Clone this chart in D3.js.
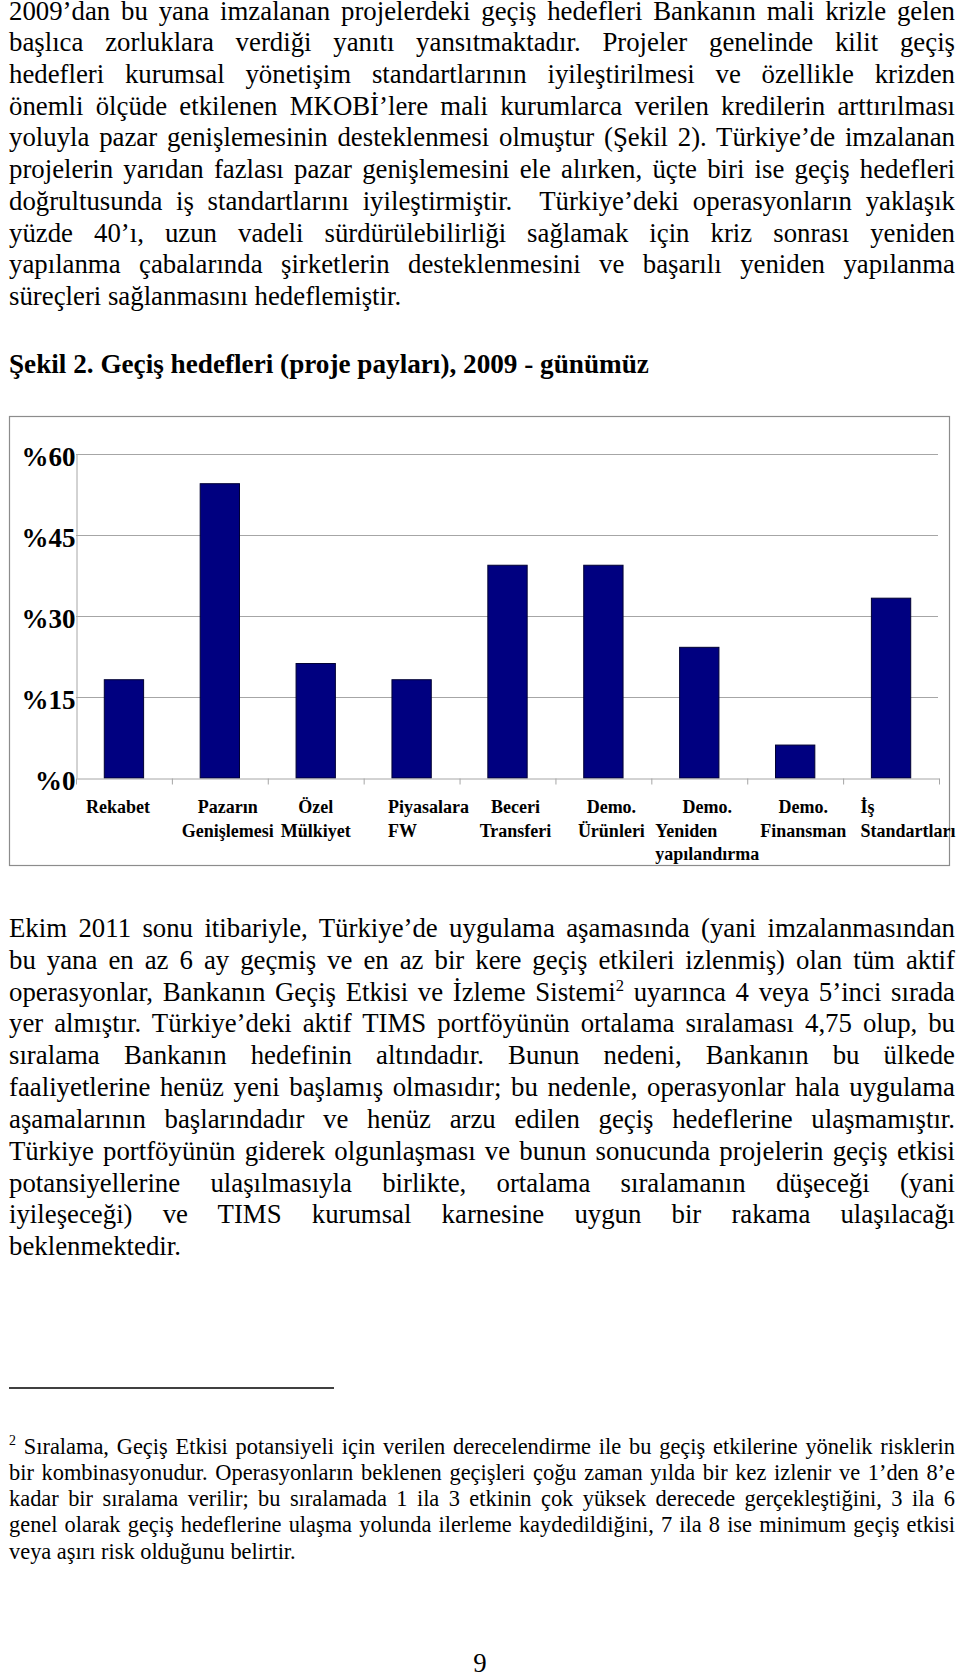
<!DOCTYPE html>
<html>
<head>
<meta charset="utf-8">
<script src="https://cdn.jsdelivr.net/npm/d3@7"></script>
<style>
  html, body { margin: 0; padding: 0; background: #fff; }
  svg { display: block; }
  text { white-space: pre; }
</style>
</head>
<body>
<svg id="page" width="960" height="1678"></svg>
<script>
// ---------------- DATA ----------------
const para1 = [
  "2009’dan bu yana imzalanan projelerdeki geçiş hedefleri Bankanın mali krizle gelen",
  "başlıca zorluklara verdiği yanıtı yansıtmaktadır. Projeler genelinde kilit geçiş",
  "hedefleri kurumsal yönetişim standartlarının iyileştirilmesi ve özellikle krizden",
  "önemli ölçüde etkilenen MKOBİ’lere mali kurumlarca verilen kredilerin arttırılması",
  "yoluyla pazar genişlemesinin desteklenmesi olmuştur (Şekil 2). Türkiye’de imzalanan",
  "projelerin yarıdan fazlası pazar genişlemesini ele alırken, üçte biri ise geçiş hedefleri",
  "doğrultusunda iş standartlarını iyileştirmiştir.  Türkiye’deki operasyonların yaklaşık",
  "yüzde 40’ı, uzun vadeli sürdürülebilirliği sağlamak için kriz sonrası yeniden",
  "yapılanma çabalarında şirketlerin desteklenmesini ve başarılı yeniden yapılanma",
  "süreçleri sağlanmasını hedeflemiştir."
];
const figureTitle = "Şekil 2. Geçiş hedefleri (proje payları), 2009 - günümüz";
const para2 = [
  "Ekim 2011 sonu itibariyle, Türkiye’de uygulama aşamasında (yani imzalanmasından",
  "bu yana en az 6 ay geçmiş ve en az bir kere geçiş etkileri izlenmiş) olan tüm aktif",
  "operasyonlar, Bankanın Geçiş Etkisi ve İzleme Sistemi{2} uyarınca 4 veya 5’inci sırada",
  "yer almıştır. Türkiye’deki aktif TIMS portföyünün ortalama sıralaması 4,75 olup, bu",
  "sıralama Bankanın hedefinin altındadır. Bunun nedeni, Bankanın bu ülkede",
  "faaliyetlerine henüz yeni başlamış olmasıdır; bu nedenle, operasyonlar hala uygulama",
  "aşamalarının başlarındadır ve henüz arzu edilen geçiş hedeflerine ulaşmamıştır.",
  "Türkiye portföyünün giderek olgunlaşması ve bunun sonucunda projelerin geçiş etkisi",
  "potansiyellerine ulaşılmasıyla birlikte, ortalama sıralamanın düşeceği (yani",
  "iyileşeceği) ve TIMS kurumsal karnesine uygun bir rakama ulaşılacağı",
  "beklenmektedir."
];
const footnote = [
  "{2} Sıralama, Geçiş Etkisi potansiyeli için verilen derecelendirme ile bu geçiş etkilerine yönelik risklerin",
  "bir kombinasyonudur. Operasyonların beklenen geçişleri çoğu zaman yılda bir kez izlenir ve 1’den 8’e",
  "kadar bir sıralama verilir; bu sıralamada 1 ila 3 etkinin çok yüksek derecede gerçekleştiğini, 3 ila 6",
  "genel olarak geçiş hedeflerine ulaşma yolunda ilerleme kaydedildiğini, 7 ila 8 ise minimum geçiş etkisi",
  "veya aşırı risk olduğunu belirtir."
];
const pageNumber = "9";

const categories = [
  "Rekabet",
  "Pazarın\nGenişlemesi",
  "Özel\nMülkiyet",
  "Piyasalara\nFW",
  "Beceri\nTransferi",
  "Demo.\nÜrünleri",
  "Demo.\nYeniden\nyapılandırma",
  "Demo.\nFinansman",
  "İş\nStandartları"
];
const shares = [18.2, 54.5, 21.2, 18.2, 39.4, 39.4, 24.2, 6.1, 33.3];
const yTicks = [0, 15, 30, 45, 60];
const yTickLabels = ["%0", "%15", "%30", "%45", "%60"];

// ---------------- TEXT ----------------
const svg = d3.select("#page");
const SERIF = "Liberation Serif";
const LEFT = 9, TEXT_W = 946;

function drawLine(g, str, x, y, width, justify, size, weight) {
  const t = g.append("text")
    .attr("x", x).attr("y", y)
    .attr("font-family", SERIF)
    .attr("font-size", size)
    .attr("font-weight", weight || "normal")
    .attr("fill", "#000");
  const parts = str.split(/(\{\d+\})/);
  let shifted = false;
  parts.forEach(p => {
    if (!p) return;
    const m = p.match(/^\{(\d+)\}$/);
    if (m) {
      t.append("tspan").attr("dy", -size * 0.36).attr("font-size", size * 0.62).text(m[1]);
      shifted = true;
    } else {
      const ts = t.append("tspan").text(p);
      if (shifted) { ts.attr("dy", size * 0.36); shifted = false; }
    }
  });
  if (justify) {
    const nat = t.node().getComputedTextLength();
    const spaces = (str.match(/ /g) || []).length;
    if (spaces) t.style("word-spacing", ((width - nat) / spaces) + "px");
  }
  return t;
}

function drawParagraph(lines, y0, lh, size) {
  const g = svg.append("g");
  lines.forEach((l, i) => {
    drawLine(g, l, LEFT, y0 + i * lh, TEXT_W, i < lines.length - 1, size);
  });
}

drawParagraph(para1, 19.5, 31.72, 26.8);
drawLine(svg, figureTitle, LEFT, 372.5, TEXT_W, false, 27.2, "bold");
drawParagraph(para2, 937, 31.83, 26.8);

// footnote separator
svg.append("line").attr("x1", 9).attr("x2", 334).attr("y1", 1388).attr("y2", 1388)
  .attr("stroke", "#000").attr("stroke-width", 1.3);
drawParagraph(footnote, 1453.5, 26.3, 22.4);

svg.append("text").attr("x", 480).attr("y", 1672).attr("text-anchor", "middle")
  .attr("font-family", SERIF).attr("font-size", 26.8).text(pageNumber);

// ---------------- CHART ----------------
const frame = { x0: 9.5, y0: 416.5, x1: 949.5, y1: 865.5 };
const plot = { left: 76, right: 939, top: 454, bottom: 778 };
const chart = svg.append("g");

chart.append("rect")
  .attr("x", frame.x0).attr("y", frame.y0)
  .attr("width", frame.x1 - frame.x0).attr("height", frame.y1 - frame.y0)
  .attr("fill", "#fff").attr("stroke", "#8c8c8c").attr("stroke-width", 1.2);

const idx = d3.range(categories.length);
const xCat = d3.scaleBand().domain(idx).range([plot.left, plot.right]);
const xBar = d3.scaleBand().domain(idx).range([plot.left, plot.right])
  .paddingInner(0.59).paddingOuter(0.295);
const y = d3.scaleLinear().domain([0, 60]).range([plot.bottom, plot.top]);

// gridlines
chart.append("g").selectAll("line")
  .data(yTicks.filter(d => d > 0))
  .join("line")
  .attr("x1", plot.left).attr("x2", plot.right - 1)
  .attr("y1", d => Math.round(y(d)) + 0.5).attr("y2", d => Math.round(y(d)) + 0.5)
  .attr("stroke", "#a6a6a6").attr("stroke-width", 1);

// y axis
const yAxis = chart.append("g")
  .attr("transform", `translate(${plot.left + 0.5},0)`)
  .call(d3.axisLeft(y).tickValues(yTicks).tickSize(0).tickSizeOuter(0).tickPadding(1)
    .tickFormat((d, i) => yTickLabels[i]));
yAxis.select(".domain").attr("stroke", "#a6a6a6");
yAxis.selectAll("text")
  .attr("dy", "0.44em")
  .attr("font-family", SERIF).attr("font-size", 27).attr("font-weight", "bold")
  .attr("fill", "#000");

// bars
chart.append("g").selectAll("rect")
  .data(shares)
  .join("rect")
  .attr("x", (d, i) => xBar(i))
  .attr("width", xBar.bandwidth())
  .attr("y", d => y(d))
  .attr("height", d => y(0) - y(d))
  .attr("fill", "#000080")
  .attr("stroke", "#000033").attr("stroke-width", 1);

// x axis with ticks at category boundaries
const xBound = d3.scaleLinear().domain([0, categories.length]).range([plot.left, plot.right]);
const xAxis = chart.append("g")
  .attr("transform", `translate(0,${Math.round(y(0)) + 0.5})`)
  .call(d3.axisBottom(xBound).tickValues(d3.range(categories.length + 1))
    .tickSize(6).tickSizeOuter(0).tickFormat(""));
xAxis.select(".domain").attr("stroke", "#a6a6a6");
xAxis.selectAll(".tick line").attr("stroke", "#a6a6a6");

// category labels (layout as in the original figure: most centred, a few left-set)
const labelNudge = [-14, 0, -8, 9, 0, 0, 0, 0, 9];
const labelAlign = ["center", "center", "center", "left", "center", "center", "tail-left", "center", "left"];
const labelG = chart.append("g");
categories.forEach((c, i) => {
  const lines = c.split("\n");
  const cx = xCat(i) + xCat.bandwidth() / 2 + 8 + labelNudge[i];
  const texts = lines.map((l, j) => labelG.append("text")
    .attr("y", 813 + j * 23.5)
    .attr("font-family", SERIF).attr("font-size", 18).attr("font-weight", "bold")
    .attr("fill", "#000").text(l));
  const maxW = d3.max(texts, t => t.node().getComputedTextLength());
  texts.forEach((t, j) => {
    const mode = labelAlign[i];
    if (mode === "left" || (mode === "tail-left" && j > 0)) {
      t.attr("x", cx - maxW / 2).attr("text-anchor", "start");
    } else {
      t.attr("x", cx).attr("text-anchor", "middle");
    }
  });
});
</script>
</body>
</html>
